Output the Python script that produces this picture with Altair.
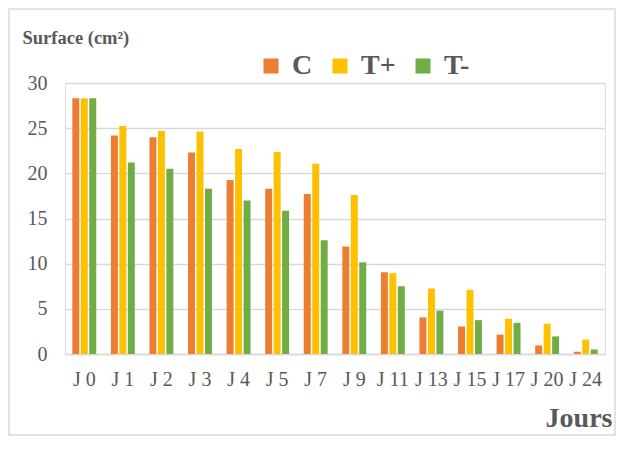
import altair as alt
import pandas as pd

days = ["J 0", "J 1", "J 2", "J 3", "J 4", "J 5", "J 7", "J 9", "J 11", "J 13", "J 15", "J 17", "J 20", "J 24"]
groups = ["C", "T+", "T-"]
c_vals = [28.3, 24.2, 24.0, 22.3, 19.25, 18.3, 17.7, 11.9, 9.05, 4.05, 3.05, 2.15, 0.95, 0.25]
tplus_vals = [28.3, 25.25, 24.7, 24.6, 22.7, 22.35, 21.05, 17.6, 8.95, 7.25, 7.1, 3.9, 3.35, 1.6]
tminus_vals = [28.3, 21.2, 20.5, 18.3, 17.0, 15.85, 12.6, 10.15, 7.5, 4.8, 3.75, 3.45, 1.95, 0.5]
colors = ["#ED7D31", "#FFC000", "#70AD47"]
y_ticks = [0, 5, 10, 15, 20, 25, 30]

rows = []
for g, vals in zip(groups, [c_vals, tplus_vals, tminus_vals]):
    for d, v in zip(days, vals):
        rows.append({"jour": d, "groupe": g, "surface": v})
df = pd.DataFrame(rows)

FONT = "Liberation Serif"
TXT = "#595959"
GRID = "#d9d9d9"

bars = alt.Chart(df).mark_bar().encode(
    x=alt.X("jour:N", sort=days,
            scale=alt.Scale(paddingInner=0.38, paddingOuter=0.19),
            axis=alt.Axis(labelAngle=0, domain=True, domainColor=GRID, domainWidth=1.3,
                          ticks=False, tickSize=0, labelFontSize=20, labelFont=FONT,
                          labelColor=TXT, labelPadding=15,
                          title="Jours", titleFont=FONT, titleFontSize=28,
                          titleFontWeight="bold", titleColor=TXT,
                          titleX=547, titleY=72, titleAlign="right",
                          titleBaseline="alphabetic")),
    xOffset=alt.XOffset("groupe:N", sort=groups, scale=alt.Scale(paddingInner=0.176)),
    y=alt.Y("surface:Q", scale=alt.Scale(domain=[0, 30], nice=False),
            axis=alt.Axis(values=y_ticks, grid=True, gridColor=GRID, gridWidth=1.3,
                          domain=False, ticks=False, tickSize=0,
                          labelFontSize=20, labelFont=FONT, labelColor=TXT, labelPadding=18,
                          title="Surface (cm²)", titleFont=FONT, titleFontSize=18.5,
                          titleFontWeight="bold", titleColor=TXT, titleAngle=0,
                          titleX=-43, titleY=-40, titleAlign="left",
                          titleBaseline="alphabetic")),
    color=alt.Color("groupe:N", sort=groups,
                    scale=alt.Scale(domain=groups, range=colors),
                    legend=alt.Legend(orient="none", legendX=192, legendY=-31,
                                      direction="horizontal", title=None,
                                      symbolType="square", symbolSize=225,
                                      symbolStrokeWidth=0, symbolOpacity=1,
                                      labelFontSize=28, labelFont=FONT,
                                      labelFontWeight="bold", labelColor=TXT,
                                      labelOffset=7, columnPadding=13, padding=0)),
)

frame_df = pd.DataFrame({"k": [0]})
frame = alt.Chart(frame_df).mark_rect(fillOpacity=0, stroke=GRID, strokeWidth=1.5).encode(
    x=alt.value(-56), x2=alt.value(550), y=alt.value(-74), y2=alt.value(352)
)

chart = alt.layer(frame, bars).properties(
    width=540, height=271,
    autosize=alt.AutoSizeParams(type="none"),
    padding={"left": 57, "top": 75, "right": 11, "bottom": 82},
).configure_view(stroke=None).configure(background="white")

chart.save("out.html", embed_options={"renderer": "svg", "actions": False})
